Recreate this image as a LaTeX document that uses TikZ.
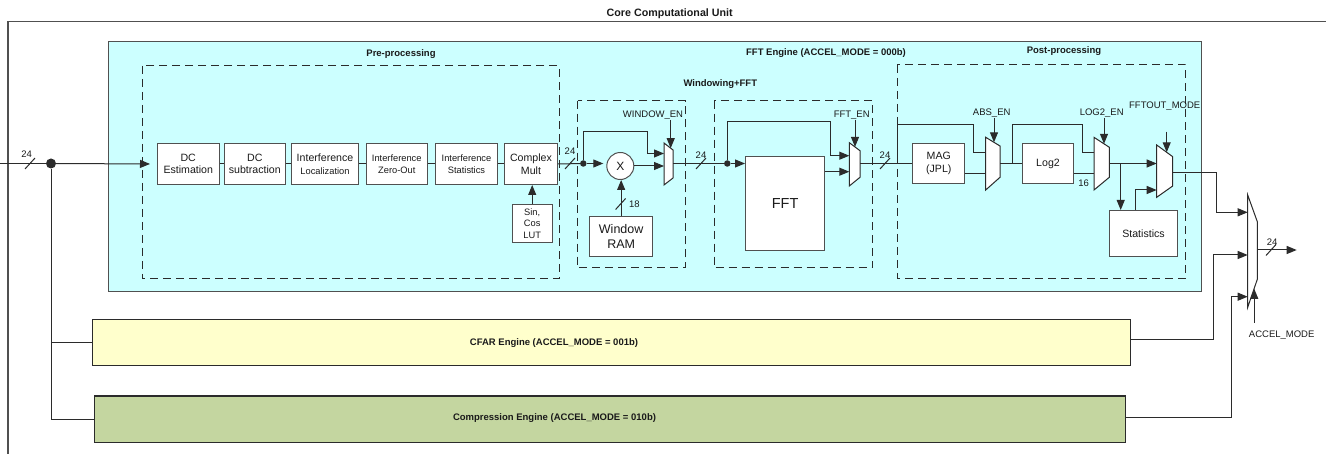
\documentclass[tikz,border=0pt]{standalone}
\usepackage{fontspec}
\setmainfont{Liberation Sans}
\usetikzlibrary{arrows.meta,calc}
\definecolor{cyanfill}{HTML}{CCFFFF}
\definecolor{cfarfill}{HTML}{FFFFCC}
\definecolor{compfill}{HTML}{C4D6A0}
\definecolor{linec}{HTML}{2B2B2B}
\definecolor{boxc}{HTML}{505050}
\definecolor{txtc}{HTML}{1A1A1A}
\newcommand\fsA{\fontsize{10.6pt}{12.7pt}\selectfont}
\newcommand\fsS{\fontsize{9.3pt}{11.7pt}\selectfont}
\newcommand\fsL{\fontsize{9.5pt}{11pt}\selectfont}
\newcommand\fsT{\bfseries\fontsize{9.5pt}{11pt}\selectfont}
\newcommand\fsC{\bfseries\fontsize{10.7pt}{12pt}\selectfont}
\newcommand\fsW{\fontsize{12.5pt}{14.4pt}\selectfont}
\newcommand\fsF{\fontsize{14.5pt}{17pt}\selectfont}
\newcommand\fsX{\fontsize{12pt}{14pt}\selectfont}
\newcommand\busmark[1]{\draw[wire] ($(#1)+(-5,5.5)$) -- ($(#1)+(5,-5.5)$);}
\begin{document}
\begin{tikzpicture}[x=1pt,y=-1pt,
  wire/.style={draw=linec, line width=1pt},
  arr/.style={wire, -{Triangle[length=10pt,width=8pt]}},
  box/.style={draw=boxc, fill=white, line width=1pt, inner sep=0pt, align=center, anchor=north west, text=txtc, font=\fsA},
  dashbox/.style={draw=linec, line width=1pt, dash pattern=on 8pt off 5pt},
  mux/.style={draw=linec, fill=white, line width=1pt, line join=miter},
  ttl/.style={font=\fsT, text=txtc, inner sep=0pt},
  lbl/.style={font=\fsL, text=txtc, inner sep=0pt},
  dotn/.style={circle, fill=linec, inner sep=0pt, minimum size=#1},
  engine/.style={line width=1.1pt, anchor=north west, inner sep=0pt}
]
\useasboundingbox (0,0) rectangle (1326,454);

% outer unit
\draw[line width=1.1pt, draw=boxc] (8,454) -- (8,21.3) -- (1326,21.3);
\node[ttl, font=\fsC] (cutitle) at (669.7,14) {Core Computational Unit};

% FFT engine
\node[engine, draw=boxc, fill=cyanfill, minimum width=1092.7pt, minimum height=250.3pt] (ffteng) at (108,40.7) {};
\node[ttl] (fftt) at (826,53.3) {FFT Engine (ACCEL\_MODE = 000b)};
\node[ttl] (pret) at (401,54.3) {Pre-processing};
\node[ttl] (postt) at (1064,50.7) {Post-processing};
\node[ttl] (wfft) at (720.3,84) {Windowing+FFT};

\draw[dashbox] (142,66) rectangle (559,279);
\draw[dashbox] (577.7,100.7) rectangle (685.7,268);
\draw[dashbox] (714,100.7) rectangle (872.7,268);
\draw[dashbox] (897.3,65) rectangle (1185.7,278.3);

% pre-processing
\node[box, minimum width=61.5pt, minimum height=41pt] (dcest) at (157,143) {DC\\Estimation};
\node[box, minimum width=61.5pt, minimum height=41pt] (dcsub) at (223.5,143) {DC\\subtraction};
\node[box, minimum width=67pt, minimum height=41pt] (intloc) at (291,143) {Interference\\{\fsS Localization}};
\node[box, font=\fsS, minimum width=61.5pt, minimum height=41pt] (intzero) at (365.5,143) {Interference\\Zero-Out};
\node[box, font=\fsS, minimum width=62pt, minimum height=41pt] (intstat) at (435,143) {Interference\\Statistics};
\node[box, minimum width=53pt, minimum height=41pt] (cmult) at (504,143) {Complex\\Mult};
\node[box, font=\fsS, minimum width=40pt, minimum height=38.3pt] (lut) at (511.7,204) {Sin,\\Cos\\LUT};

\coordinate (in0) at (0,163.5);
\node[dotn=10pt] (d0) at (51,163.5) {};
\draw[wire] (in0) -- (d0);
\busmark{30,163.5}
\node[lbl] (l24a) at (26.7,153.7) {24};
\draw[arr, shorten >=7pt] (d0) -- (dcest.west);
\draw[wire] (dcest.east) -- (dcsub.west);
\draw[wire] (dcsub.east) -- (intloc.west);
\draw[wire] (intloc.east) -- (intzero.west);
\draw[wire] (intzero.east) -- (intstat.west);
\draw[wire] (intstat.east) -- (cmult.west);
\draw[arr] (lut.north) -- (lut.north |- cmult.south);

% windowing
\node[dotn=6.5pt] (d1) at (583.3,163.5) {};
\draw[wire] (cmult.east) -- (d1);
\busmark{570,163.5}
\node[lbl] (l24b) at (570,151) {24};
\node[circle, draw=boxc, fill=white, line width=1pt, minimum size=27pt, inner sep=0pt, font=\fsX, text=txtc] (xc) at (620.3,166) {X};
\draw[arr, shorten >=3pt] (d1) -- (d1 -| xc.west);
\draw[mux] (664,143) -- (673,150) -- (673,178) -- (664,185) -- cycle;
\coordinate (mwa) at (664,153.5);
\coordinate (mwb) at (664,166);
\coordinate (mwo) at (673,163.5);
\coordinate (mws) at (670.7,148.2);
\draw[arr] (xc.east) -- (mwb);
\coordinate (wb1) at (647.7,131.7);
\draw[arr] (d1) |- (wb1) -- (wb1 |- mwa) -- (mwa);
\node[lbl] (wen) at (653,115.3) {WINDOW\_EN};
\draw[arr] (mws |- wen.south) -- (mws);
\node[box, font=\fsW, minimum width=63.3pt, minimum height=39.7pt] (wram) at (589,216) {Window\\RAM};
\draw[arr] (wram.north) -- (wram.north |- xc.south);
\busmark{620.6,204}
\node[lbl] (l18) at (634.3,204) {18};

% FFT
\node[dotn=6.5pt] (d2) at (727.3,163.5) {};
\draw[wire] (mwo) -- (d2);
\busmark{701,163.5}
\node[lbl] (l24c) at (701,155.6) {24};
\node[box, font=\fsF, minimum width=79.3pt, minimum height=94.3pt] (fft) at (745,155.7) {FFT};
\draw[arr] (d2) -- (d2 -| fft.west);
\draw[mux] (849.3,142.7) -- (860,150.7) -- (860,177.3) -- (849.3,186) -- cycle;
\coordinate (mfa) at (849.3,155.7);
\coordinate (mfb) at (849.3,171.7);
\coordinate (mfo) at (860,163.5);
\coordinate (mfs) at (855,146.9);
\coordinate (fb1) at (830,121.7);
\draw[arr] (d2) |- (fb1) -- (fb1 |- mfa) -- (mfa);
\draw[arr] (fft.east |- mfb) -- (mfb);
\node[lbl] (fen) at (851.7,115.3) {FFT\_EN};
\draw[arr] (mfs |- fen.south) -- (mfs);

% post-processing
\node[box, minimum width=52pt, minimum height=39.4pt] (mag) at (912.3,143.3) {MAG\\(JPL)};
\draw[wire] (mfo) -- (mfo -| mag.west);
\busmark{885,163.5}
\node[lbl] (l24d) at (885,155.6) {24};
\draw[mux] (985.7,137.3) -- (1000,146) -- (1000,177.3) -- (985.7,190) -- cycle;
\coordinate (maa) at (985.7,152.7);
\coordinate (mab) at (985.7,174);
\coordinate (mao) at (1000,163.5);
\coordinate (mas) at (994,142.3);
\coordinate (bp1) at (897.3,163.5);
\coordinate (ab1) at (973.3,125);
\draw[wire] (bp1) |- (ab1) -- (ab1 |- maa) -- (maa);
\draw[wire] (mag.east |- mab) -- (mab);
\node[lbl] (aen) at (991.7,113.3) {ABS\_EN};
\draw[arr] (mas |- aen.south) -- (mas);

\node[box, minimum width=51.6pt, minimum height=39.4pt] (log2) at (1021.7,143.3) {Log2};
\draw[wire] (mao) -- (mao -| log2.west);
\draw[mux] (1094,137.3) -- (1109.3,147.3) -- (1109.3,177.3) -- (1094,190) -- cycle;
\coordinate (mla) at (1094,152.7);
\coordinate (mlb) at (1094,173.3);
\coordinate (mlo) at (1109.3,163.5);
\coordinate (mls) at (1104,143.8);
\coordinate (bp2) at (1012.7,163.5);
\coordinate (lb1) at (1082.3,125);
\draw[wire] (bp2) |- (lb1) -- (lb1 |- mla) -- (mla);
\draw[wire] (log2.east |- mlb) -- (mlb);
\node[lbl] (l16) at (1083.7,183) {16};
\node[lbl] (len) at (1101.7,113.3) {LOG2\_EN};
\draw[arr] (mls |- len.south) -- (mls);

\draw[mux] (1156.7,145) -- (1172.7,156.7) -- (1172.7,186) -- (1156.7,197.3) -- cycle;
\coordinate (moa) at (1156.7,163.5);
\coordinate (mob) at (1156.7,190);
\coordinate (moo) at (1172.7,172.7);
\coordinate (mos) at (1166.7,152.3);
\draw[arr] (mlo) -- (moa);
\node[box, minimum width=67.4pt, minimum height=45.7pt] (stats) at (1109.3,210) {Statistics};
\coordinate (bp3) at (1120.7,163.5);
\draw[arr] (bp3) -- (bp3 |- stats.north);
\coordinate (sx) at (1135.7,190);
\draw[arr] (sx |- stats.north) -- (sx) -- (mob);
\node[lbl] (fom) at (1164.7,106) {FFTOUT\_MODE};
\coordinate (moss) at (1166.7,131.7);
\draw[arr] (moss) -- (mos);

% final mux
\draw[mux] (1247.7,195) -- (1257.3,221.7) -- (1257.3,279.3) -- (1247.7,307.3) -- cycle;
\coordinate (fma) at (1247.7,212.3);
\coordinate (fmb) at (1247.7,255);
\coordinate (fmc) at (1247.7,296.7);
\coordinate (fmo) at (1257.3,250);
\coordinate (fms) at (1254.3,289);
\coordinate (ob1) at (1216.7,212.3);
\draw[arr] (moo) -| (ob1) -- (fma);
\coordinate (outend) at (1296.7,250);
\draw[arr] (fmo) -- (outend);
\busmark{1271,250}
\node[lbl] (l24e) at (1272.2,242.3) {24};
\node[lbl] (am) at (1281.7,335) {ACCEL\_MODE};
\coordinate (ams) at (1254.3,323);
\draw[arr] (ams) -- (fms);

% CFAR and compression
\node[engine, draw=linec, fill=cfarfill, minimum width=1038.5pt, minimum height=46pt] (cfar) at (91.5,319.3) {};
\node[ttl] (cfart) at (554,343.3) {CFAR Engine (ACCEL\_MODE = 001b)};
\node[engine, draw=linec, fill=compfill, minimum width=1031.25pt, minimum height=46pt] (comp) at (93.75,395.5) {};
\node[ttl] (compt) at (554.5,417.7) {Compression Engine (ACCEL\_MODE = 010b)};
\coordinate (c1) at (1213.3,340);
\draw[arr] (cfar.east |- c1) -- (c1) |- (fmb);
\coordinate (c2) at (1231.7,417.3);
\draw[arr] (comp.east |- c2) -- (c2) |- (fmc);
\draw[wire] (d0) -- (d0 |- comp.west) -- (comp.west);
\draw[wire] (d0 |- cfar.west) -- (cfar.west);
\end{tikzpicture}
\end{document}
